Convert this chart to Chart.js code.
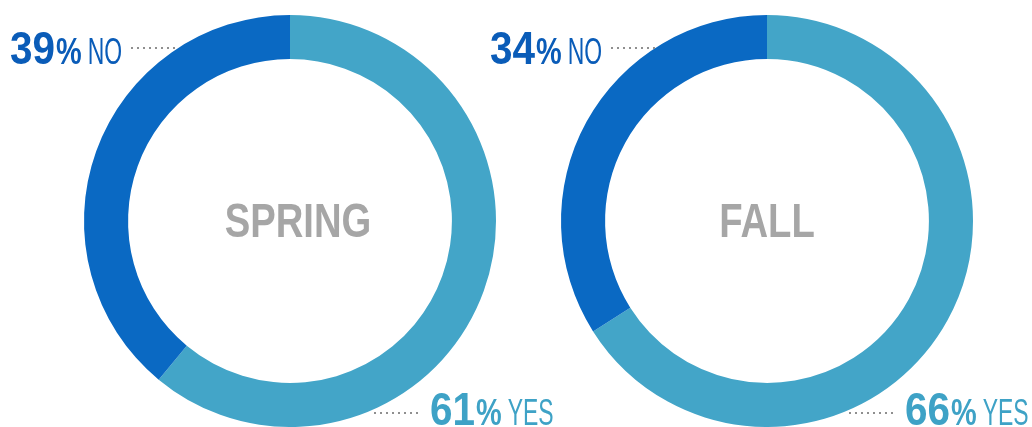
<!DOCTYPE html>
<html>
<head>
<meta charset="utf-8">
<script src="https://cdn.jsdelivr.net/npm/chart.js@4.4.1/dist/chart.umd.min.js"></script>
<style>
  html, body { margin: 0; padding: 0; background: #fff; }
  #wrap { position: relative; width: 1032px; height: 427px; overflow: hidden; }
  #wrap canvas { position: absolute; left: 0; top: 0; }
</style>
</head>
<body>
<div id="wrap">
  <canvas id="springChart" width="1032" height="427"></canvas>
  <canvas id="fallChart" width="1032" height="427"></canvas>
</div>
<script>
// survey answers, drawn clockwise from 12 o'clock
var answers = ["YES", "NO"];
var springValues = [61, 39];
var fallValues = [66, 34];
var seasonNames = ["SPRING", "FALL"];
var sliceColors = ["#43a5c8", "#0a69c3"];
var labelColors = ["#3ea2c6", "#0a5cb8"];

var FONT = '"Liberation Sans", Arial, sans-serif';

// condensed look: squeeze the glyphs horizontally
function squeezed(ctx, text, x, y, font, sx) {
    ctx.font = font;
    var w = ctx.measureText(text).width * sx;
    ctx.save();
    ctx.translate(x, y);
    ctx.scale(sx, 1);
    ctx.fillText(text, 0, 0);
    ctx.restore();
    return w;
}

function drawLabel(ctx, x, y, value, answer, color) {
    ctx.fillStyle = color;
    ctx.textBaseline = "alphabetic";
    ctx.textAlign = "left";
    x += squeezed(ctx, String(value), x, y, "bold 46px " + FONT, 0.88) + 1;
    x += squeezed(ctx, "%", x, y, "bold 37px " + FONT, 0.78) + 6;
    x += squeezed(ctx, answer, x, y, "37px " + FONT, 0.62);
    return x;
}

function dots(ctx, x1, x2, y) {
    ctx.save();
    ctx.strokeStyle = "#8f8f8f";
    ctx.lineWidth = 2;
    ctx.setLineDash([2, 4]);
    ctx.beginPath();
    ctx.moveTo(x1, y);
    ctx.lineTo(x2, y);
    ctx.stroke();
    ctx.restore();
}

var seasonLabels = {
    id: "seasonLabels",
    afterDraw: function (chart, args, opts) {
        var ctx = chart.ctx;
        var area = chart.chartArea;
        var cx = (area.left + area.right) / 2 + (opts.titleShift || 0);
        var cy = (area.top + area.bottom) / 2;
        var values = chart.data.datasets[0].data;
        ctx.save();
        // season name in the hole
        ctx.fillStyle = "#a6a6a6";
        ctx.textAlign = "left";
        ctx.textBaseline = "alphabetic";
        var font = "bold 49px " + FONT;
        ctx.font = font;
        var w = ctx.measureText(opts.title).width * 0.78;
        squeezed(ctx, opts.title, cx - w / 2, cy + 16, font, 0.78);

        // NO label, upper left
        drawLabel(ctx, opts.noX, 64, values[1], answers[1], labelColors[1]);
        dots(ctx, opts.noX + 121, opts.noX + 166, 48);

        // YES label, lower right
        dots(ctx, opts.yesX - 56, opts.yesX - 8, 413);
        drawLabel(ctx, opts.yesX, 425, values[0], answers[0], labelColors[0]);
        ctx.restore();
    }
};

function makeChart(id, values, title, pad, labelPos) {
    new Chart(document.getElementById(id), {
        type: "doughnut",
        data: {
            labels: answers,
            datasets: [{
                data: values,
                backgroundColor: sliceColors,
                borderWidth: 0
            }]
        },
        options: {
            responsive: false,
            animation: false,
            cutout: "78.6%",
            layout: { padding: pad },
            plugins: {
                legend: { display: false },
                tooltip: { enabled: false },
                seasonLabels: Object.assign({ title: title }, labelPos)
            }
        },
        plugins: [seasonLabels]
    });
}

makeChart("springChart", springValues, seasonNames[0],
    { left: 84, right: 536, top: 15, bottom: 0 },
    { noX: 10, yesX: 430, titleShift: 8 });
makeChart("fallChart", fallValues, seasonNames[1],
    { left: 561, right: 59, top: 15, bottom: 0 },
    { noX: 490, yesX: 905, titleShift: 0 });
</script>
</body>
</html>
